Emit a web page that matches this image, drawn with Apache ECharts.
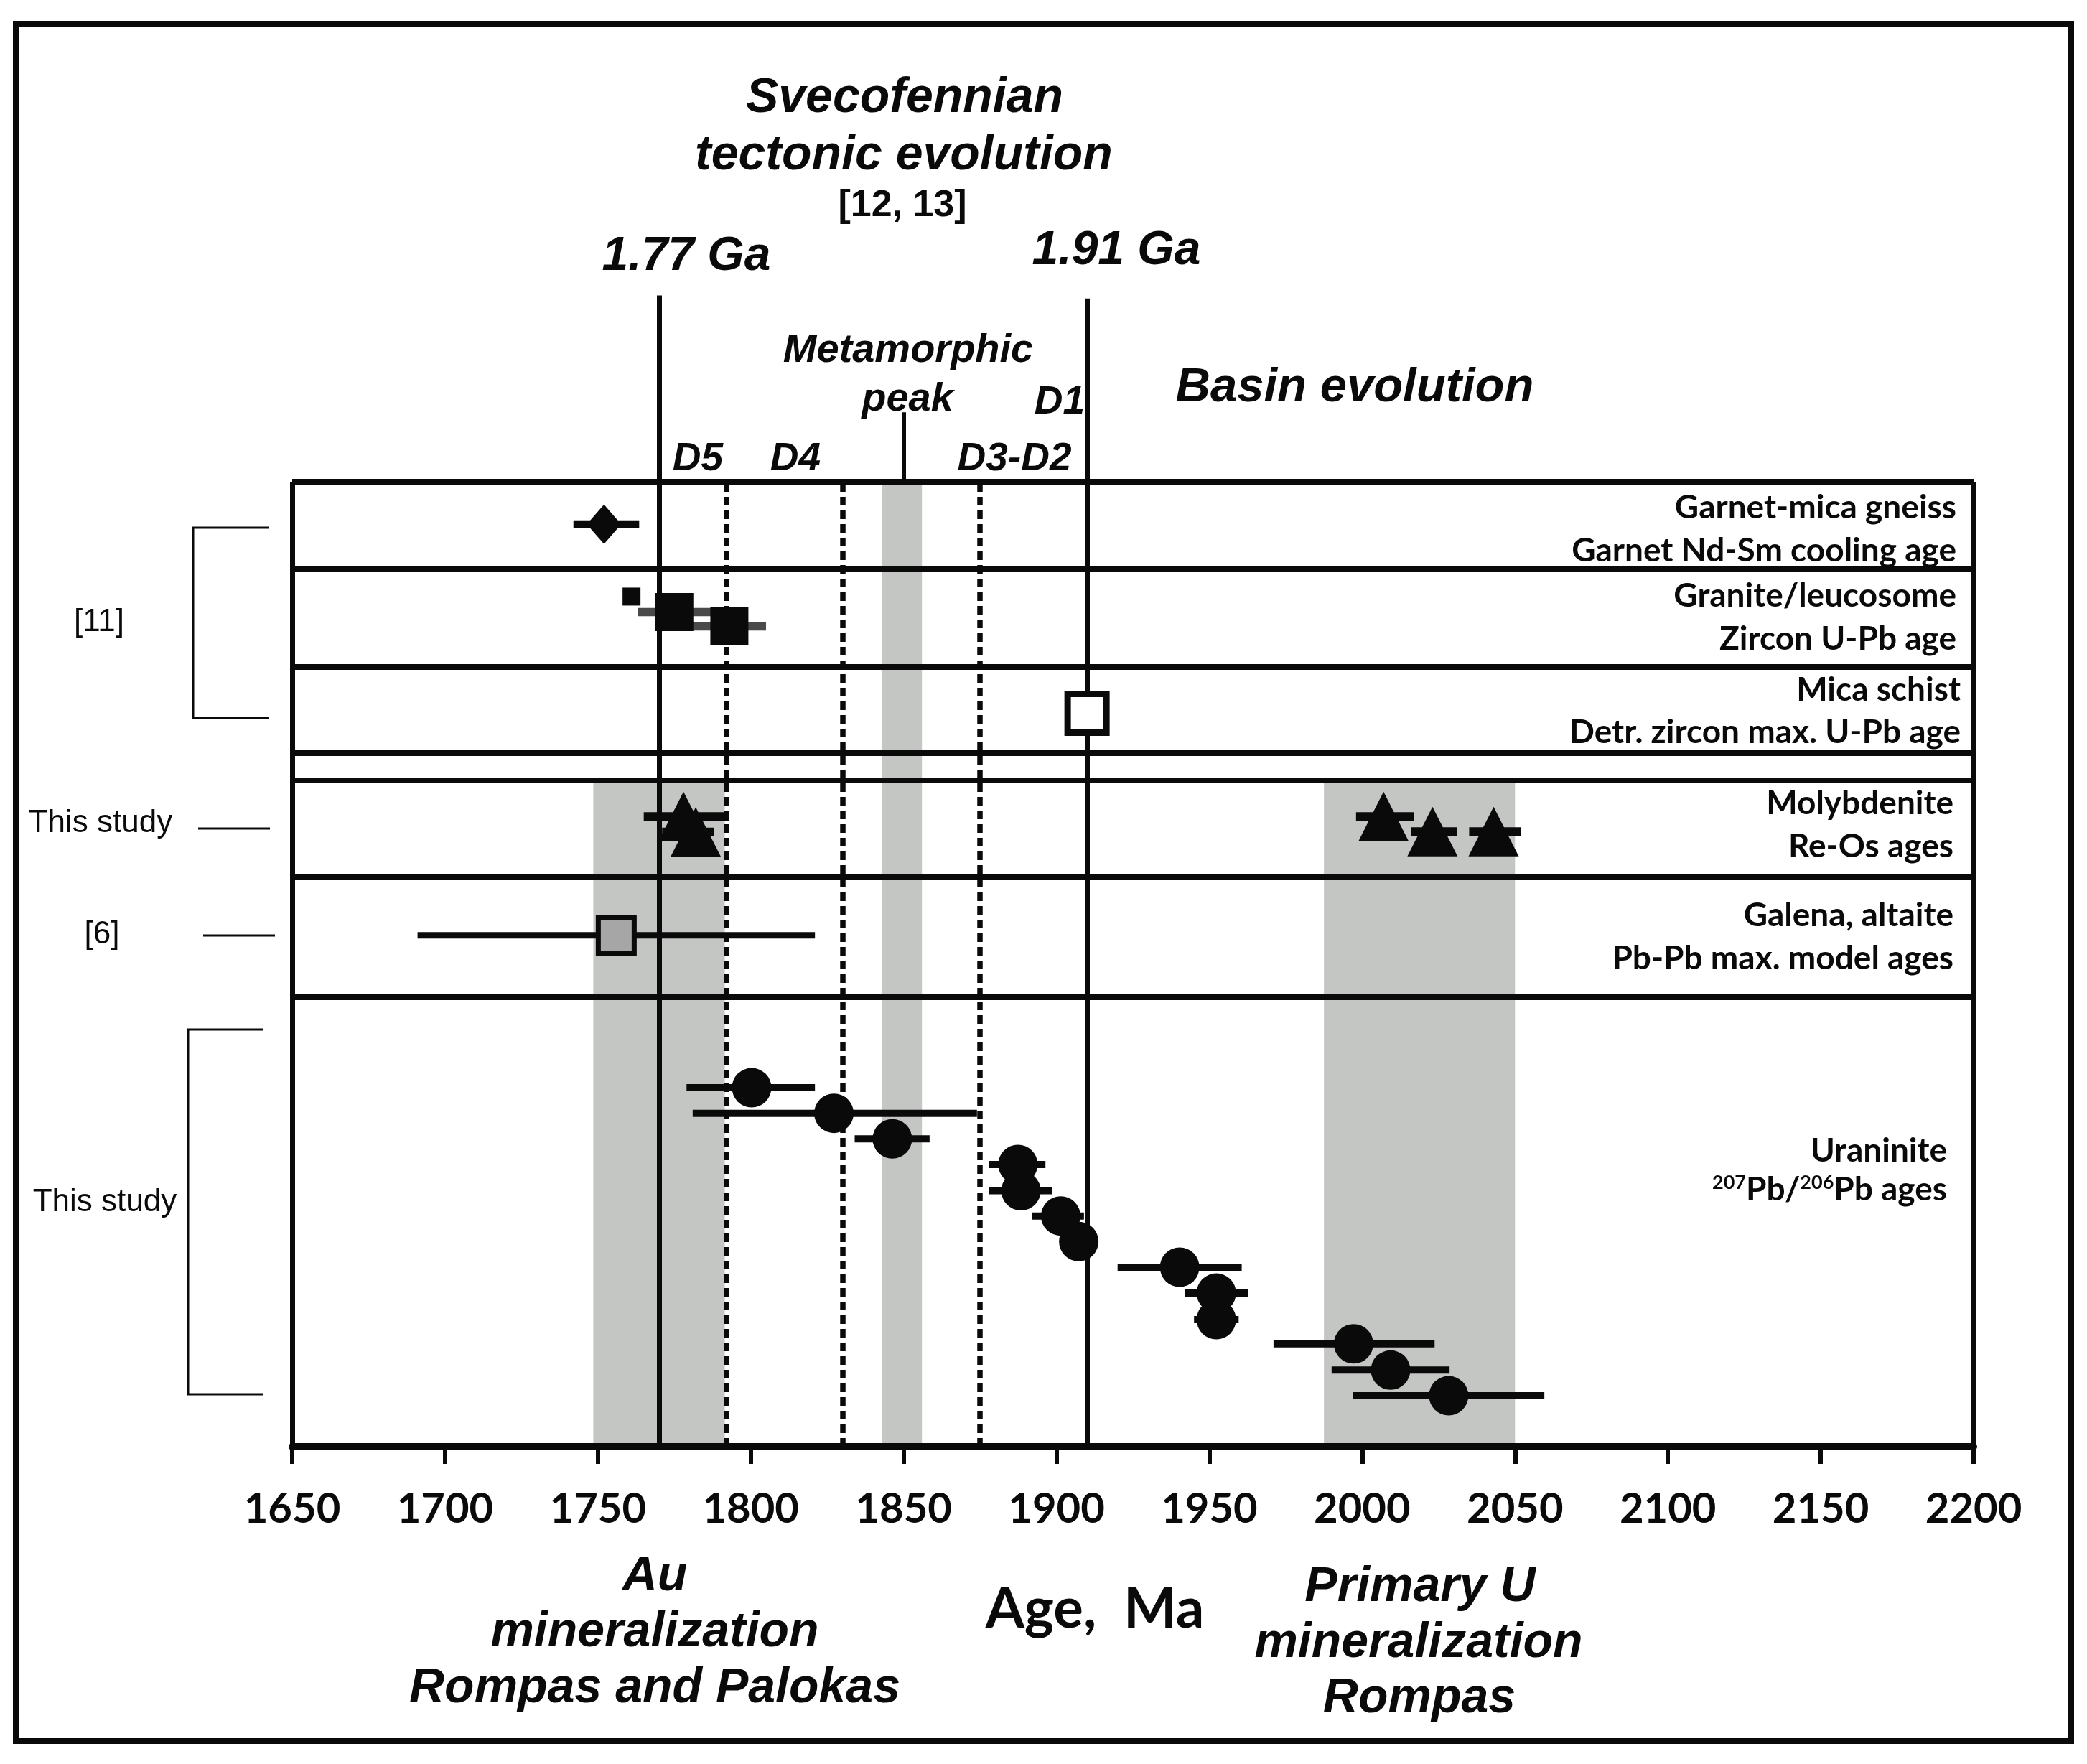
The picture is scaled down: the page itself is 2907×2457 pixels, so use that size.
<!DOCTYPE html>
<html><head><meta charset="utf-8">
<script src="https://cdn.jsdelivr.net/npm/echarts@6/dist/echarts.min.js"></script>
<style>html,body{margin:0;padding:0;background:#fff}#chart{width:2907px;height:2457px}</style>
</head><body><div id="chart"></div>
<script>
// ---------- axis ----------
const xTicks = [1650, 1700, 1750, 1800, 1850, 1900, 1950, 2000, 2050, 2100, 2150, 2200];

// ---------- data (age in Ma, row position in arbitrary vertical units) ----------
// Garnet-mica gneiss: garnet Nd-Sm cooling age
const garnetAge = [1752];
const garnetLow = [1742];
const garnetHigh = [1763.5];
const garnetRow = [95.6];

// Granite/leucosome: zircon U-Pb ages
const graniteAge = [1775, 1793];
const graniteLow = [1763, 1781];
const graniteHigh = [1787, 1805];
const graniteRow = [86.5, 85.0];
const graniteSmallAge = [1761];
const graniteSmallRow = [88.1];

// Mica schist: detrital zircon max U-Pb age
const micaAge = [1910];
const micaRow = [76.0];

// Molybdenite Re-Os ages
const molyAge = [1778, 1782, 2007, 2023, 2043];
const molyLow = [1765, 1771, 1998, 2016, 2035];
const molyHigh = [1793, 1788, 2017, 2031, 2052];
const molyRow = [65.3, 63.7, 65.3, 63.75, 63.75];

// Galena, altaite Pb-Pb max model age
const galenaAge = [1756];
const galenaLow = [1691];
const galenaHigh = [1821];
const galenaRow = [53.0];

// Uraninite 207Pb/206Pb ages
const uranAge  = [1800.3, 1827.2, 1846.3, 1887.4, 1888.4, 1901.4, 1907.3, 1940.3, 1952.3, 1952.3, 1997.2, 2009.3, 2028.3];
const uranLow  = [1779, 1781, 1834, 1878, 1878, 1892, 1902, 1920, 1942, 1945, 1971, 1990, 1997];
const uranHigh = [1821, 1874, 1858.5, 1896.4, 1898.5, 1909, 1912, 1960.6, 1962.6, 1959.6, 2023.7, 2028.6, 2059.6];
const uranRow  = [37.2, 34.55, 31.9, 29.24, 26.52, 23.91, 21.26, 18.6, 15.92, 13.17, 10.66, 7.94, 5.28];

// Row separators (vertical units)
const rowLines = [100, 90.92, 80.8, 71.88, 69.05, 59.0, 46.58];
// Tectonic event lines (Ma)
const mainEvents = [1770, 1910];          // 1.77 Ga, 1.91 Ga
const deformationBounds = [1792, 1830, 1875];
const metaPeak = 1850;
const metaPeakBand = [1843, 1856];
const auBand = [1748.5, 1791.5];
const uBand = [1987.5, 2050];

// ---------- styles ----------
const INK = '#0a0a0a';
const BAND = '#c4c6c4';
const ARIAL = '"Liberation Sans", Arial, sans-serif';
const LATO = 'Lato, "Open Sans", sans-serif';

const chart = echarts.init(document.getElementById('chart'), null, {renderer: 'canvas'});

function errSeries(low, high, row, color, width) {
  return {
    type: 'custom', z: 4, silent: true, animation: false,
    data: low.map((l, i) => [l, high[i], row[i]]),
    encode: {x: [0, 1], y: 2},
    renderItem: (params, api) => {
      const a = api.coord([api.value(0), api.value(2)]);
      const b = api.coord([api.value(1), api.value(2)]);
      return {type: 'line', shape: {x1: a[0], y1: a[1], x2: b[0], y2: b[1]},
              style: {stroke: color, lineWidth: width, lineCap: 'butt'}};
    }
  };
}
function pts(age, row, symbol, size, itemStyle) {
  return {type: 'scatter', z: 5, silent: true, animation: false, symbol, symbolSize: size,
          itemStyle: Object.assign({opacity: 1}, itemStyle), data: age.map((a, i) => [a, row[i]])};
}
const seg = (x1, y1, x2, y2, style) => [{coord: [x1, y1], lineStyle: style}, {coord: [x2, y2]}];

const solid = {color: INK, width: 7, type: 'solid'};
const markLines = [];
rowLines.forEach(v => markLines.push({yAxis: v, lineStyle: {color: INK, width: 8, type: 'solid'}}));
markLines.push(seg(xTicks[0], 0, xTicks[0], rowLines[0], solid));
markLines.push(seg(xTicks[xTicks.length - 1], 0, xTicks[xTicks.length - 1], rowLines[0], solid));
markLines.push(seg(mainEvents[0], 0, mainEvents[0], 119.3, solid));
markLines.push(seg(mainEvents[1], 0, mainEvents[1], 119.0, solid));
deformationBounds.forEach(x => markLines.push(seg(x, 0, x, rowLines[0], {color: INK, width: 7.5, type: [12, 7]})));
markLines.push(seg(metaPeak, rowLines[0], metaPeak, 107.2, {color: INK, width: 6, type: 'solid'}));

const markAreas = [
  [{coord: [auBand[0], 0]}, {coord: [auBand[1], rowLines[4]]}],
  [{coord: [uBand[0], 0]}, {coord: [uBand[1], rowLines[4]]}],
  [{coord: [metaPeakBand[0], 0]}, {coord: [metaPeakBand[1], rowLines[0]]}]
];

function txt(text, x, y, font, align) {
  const a = align || 'center';
  return {type: 'text', x, y, silent: true, z: 20,
          style: {text, font, fill: INK, textAlign: a, align: a, textVerticalAlign: 'middle', verticalAlign: 'middle'}};
}
const TF = (s) => 'italic bold ' + s + 'px ' + ARIAL;
const RF = 'bold 46px ' + LATO;
const LF = '44px ' + ARIAL;

const graphics = [
  {type: 'rect', z: 20, silent: true, shape: {x: 22, y: 33, width: 2863, height: 2392}, style: {fill: 'none', stroke: INK, lineWidth: 8}},
  // titles
  txt('Svecofennian', 1260, 137, TF(68)),
  txt('tectonic evolution', 1259, 217, TF(68)),
  txt('[12, 13]', 1257, 287, 'bold 52px ' + ARIAL),
  txt('1.77 Ga', 956, 358, TF(66)),
  txt('1.91 Ga', 1555, 350, TF(66)),
  txt('Metamorphic', 1265, 489, TF(56)),
  txt('peak', 1264, 557, TF(56)),
  txt('D1', 1476, 561, TF(55)),
  txt('Basin evolution', 1887, 541, TF(67)),
  txt('D5', 972, 640, TF(55)),
  txt('D4', 1108, 640, TF(55)),
  txt('D3-D2', 1413, 640, TF(55)),
  // bottom
  txt('Au', 912, 2196, TF(68)),
  txt('mineralization', 912, 2274, TF(68)),
  txt('Rompas and Palokas', 912, 2352, TF(68)),
  txt('Age,  Ma', 1525, 2242, 'bold 78px ' + LATO),
  txt('Primary U', 1978, 2211, TF(68)),
  txt('mineralization', 1976, 2289, TF(68)),
  txt('Rompas', 1977, 2366, TF(68)),
  // right labels
  txt('Garnet-mica gneiss', 2725, 707, RF, 'right'),
  txt('Garnet Nd-Sm cooling age', 2725, 767, RF, 'right'),
  txt('Granite/leucosome', 2725, 830, RF, 'right'),
  txt('Zircon U-Pb age', 2725, 890, RF, 'right'),
  txt('Mica schist', 2731, 961, RF, 'right'),
  txt('Detr. zircon max. U-Pb age', 2731, 1020, RF, 'right'),
  txt('Molybdenite', 2721, 1119, RF, 'right'),
  txt('Re-Os ages', 2721, 1179, RF, 'right'),
  txt('Galena, altaite', 2721, 1275, RF, 'right'),
  txt('Pb-Pb max. model ages', 2721, 1335, RF, 'right'),
  txt('Uraninite', 2712, 1603, RF, 'right'),
  {type: 'text', x: 2712, y: 1657, silent: true, z: 20,
   style: {text: '{s|207}Pb/{s|206}Pb ages', font: RF, fill: INK, textAlign: 'right', align: 'right',
           textVerticalAlign: 'middle', verticalAlign: 'middle',
           rich: {s: {fontSize: 27, fontFamily: LATO, fontWeight: 'bold', fill: INK, color: INK, verticalAlign: 'top'}}}},
  // left annotations
  txt('[11]', 138, 867, LF),
  txt('This study', 140, 1147, LF),
  txt('[6]', 142, 1302, LF),
  txt('This study', 146, 1675, LF),
  {type: 'polyline', z: 20, silent: true, shape: {points: [[375, 735], [269, 735], [269, 1000], [375, 1000]]}, style: {stroke: INK, lineWidth: 3, fill: null}},
  {type: 'polyline', z: 20, silent: true, shape: {points: [[276, 1154], [376, 1154]]}, style: {stroke: INK, lineWidth: 3, fill: null}},
  {type: 'polyline', z: 20, silent: true, shape: {points: [[283, 1303], [383, 1303]]}, style: {stroke: INK, lineWidth: 3, fill: null}},
  {type: 'polyline', z: 20, silent: true, shape: {points: [[367, 1434], [262, 1434], [262, 1942], [367, 1942]]}, style: {stroke: INK, lineWidth: 3, fill: null}}
];

const option = {
  backgroundColor: '#ffffff',
  animation: false,
  grid: {left: 407, right: 158, top: 402.2, bottom: 442, containLabel: false},
  xAxis: {
    type: 'value', min: xTicks[0], max: xTicks[xTicks.length - 1], interval: 50, z: 10,
    axisLine: {show: true, onZero: false, lineStyle: {color: INK, width: 10}},
    axisTick: {show: true, length: 24, lineStyle: {color: INK, width: 6}},
    axisLabel: {show: true, margin: 87, verticalAlign: 'middle', fontFamily: LATO, fontWeight: 'bold', fontSize: 58, color: INK,
                formatter: v => xTicks.includes(v) ? String(v) : ''},
    splitLine: {show: false}
  },
  yAxis: {type: 'value', min: 0, max: 120, show: false, splitLine: {show: false}},
  graphic: {elements: graphics},
  series: [
    Object.assign(pts(micaAge, micaRow, 'rect', 54, {color: '#ffffff', borderColor: INK, borderWidth: 9}), {
      markArea: {silent: true, z: 1, itemStyle: {color: BAND, opacity: 1}, label: {show: false}, data: markAreas},
      markLine: {silent: true, z: 2, symbol: ['none', 'none'], label: {show: false}, animation: false,
                 lineStyle: solid, emphasis: {disabled: true}, data: markLines}
    }),
    errSeries(garnetLow, garnetHigh, garnetRow, INK, 11),
    pts(garnetAge, garnetRow, 'diamond', [48, 55], {color: INK}),
    errSeries(graniteLow, graniteHigh, graniteRow, '#4a4a4a', 11.5),
    pts(graniteAge, graniteRow, 'rect', 53, {color: INK}),
    pts(graniteSmallAge, graniteSmallRow, 'rect', 25, {color: INK}),
    errSeries(molyLow, molyHigh, molyRow, INK, 12),
    pts(molyAge, molyRow, 'triangle', [70, 69], {color: INK}),
    errSeries(galenaLow, galenaHigh, galenaRow, INK, 9),
    pts(galenaAge, galenaRow, 'rect', 50, {color: '#a6a6a6', borderColor: INK, borderWidth: 7}),
    errSeries(uranLow, uranHigh, uranRow, INK, 10),
    pts(uranAge, uranRow, 'circle', 55, {color: INK})
  ]
};
chart.setOption(option);
</script>
</body></html>
